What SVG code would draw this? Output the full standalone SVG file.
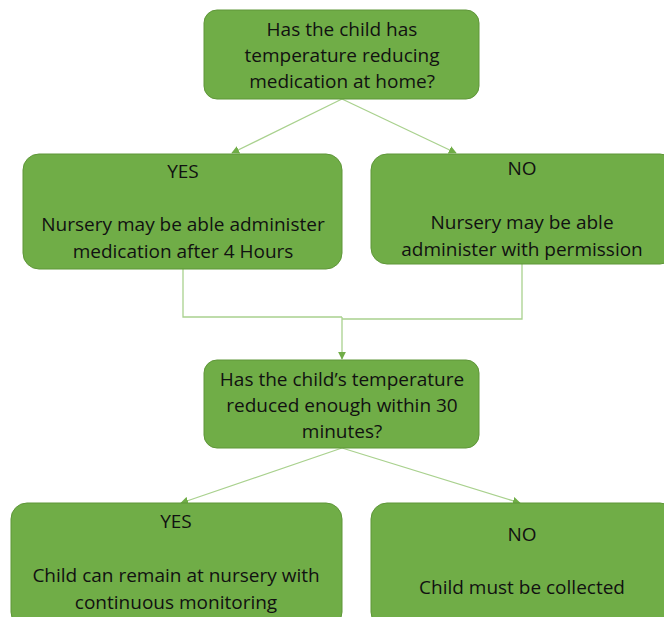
<svg xmlns="http://www.w3.org/2000/svg" width="664" height="617" viewBox="0 0 664 617">
<defs>
<style>
.box{fill:#70AD47;stroke:#5E9638;stroke-width:1}
.t{font-family:"Open Sans","Noto Sans",sans-serif;font-size:19px;fill:#111;text-anchor:middle}
.c{fill:none;stroke:#A9D18E;stroke-width:1.3}
</style>
<marker id="ah" viewBox="0 0 10 10" refX="9" refY="5" markerWidth="8" markerHeight="8" markerUnits="userSpaceOnUse" orient="auto">
<path d="M0,0 L10,5 L0,10 z" fill="#70AD47"/>
</marker>
</defs>
<rect width="664" height="617" fill="#fff"/>
<g id="connectors">
<line class="c" x1="342" y1="99" x2="232" y2="153" marker-end="url(#ah)"/>
<line class="c" x1="342" y1="99" x2="456" y2="153" marker-end="url(#ah)"/>
<polyline class="c" points="183,269 183,317 342,317"/>
<polyline class="c" points="522,264 522,319 342,319"/>
<line class="c" x1="342" y1="317" x2="342" y2="359" marker-end="url(#ah)"/>
<line class="c" x1="342" y1="448" x2="181" y2="503" marker-end="url(#ah)"/>
<line class="c" x1="342" y1="448" x2="520" y2="503" marker-end="url(#ah)"/>
</g>
<g id="q1">
<rect class="box" x="204" y="10" width="275" height="89" rx="13"/>
<text class="t" x="342" y="36">Has the child has</text>
<text class="t" x="342" y="62">temperature reducing</text>
<text class="t" x="342" y="88">medication at home?</text>
</g>
<g id="yes1">
<rect class="box" x="23" y="154" width="319" height="115" rx="16"/>
<text class="t" x="183" y="178">YES</text>
<text class="t" x="183" y="231">Nursery may be able administer</text>
<text class="t" x="183" y="258">medication after 4 Hours</text>
</g>
<g id="no1">
<rect class="box" x="371" y="154" width="305" height="110" rx="16"/>
<text class="t" x="522" y="175">NO</text>
<text class="t" x="522" y="229">Nursery may be able</text>
<text class="t" x="522" y="256">administer with permission</text>
</g>
<g id="q2">
<rect class="box" x="204" y="360" width="275" height="88" rx="13"/>
<text class="t" x="342" y="386">Has the child’s temperature</text>
<text class="t" x="342" y="412">reduced enough within 30</text>
<text class="t" x="342" y="438">minutes?</text>
</g>
<g id="yes2">
<rect class="box" x="11" y="503" width="331" height="125" rx="16"/>
<text class="t" x="176" y="528">YES</text>
<text class="t" x="176" y="582">Child can remain at nursery with</text>
<text class="t" x="176" y="609">continuous monitoring</text>
</g>
<g id="no2">
<rect class="box" x="371" y="503" width="305" height="125" rx="16"/>
<text class="t" x="522" y="541">NO</text>
<text class="t" x="522" y="594">Child must be collected</text>
</g>
</svg>
